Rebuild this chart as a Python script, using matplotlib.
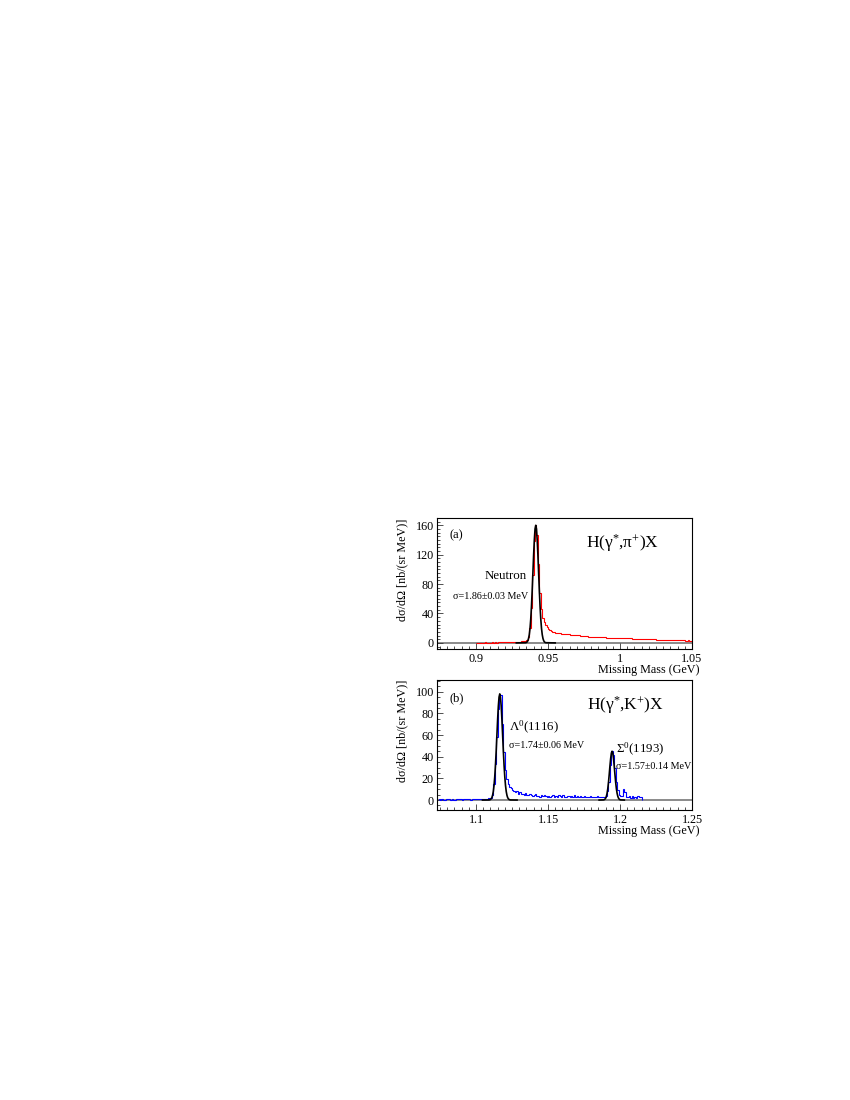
import numpy as np
import matplotlib
matplotlib.use("Agg")
import matplotlib.pyplot as plt
from matplotlib.ticker import MultipleLocator

plt.rcParams['font.family'] = ['Liberation Serif', 'DejaVu Serif']
plt.rcParams['mathtext.fontset'] = 'custom'
plt.rcParams['mathtext.rm'] = 'Liberation Serif'
plt.rcParams['mathtext.it'] = 'Liberation Serif:italic'

# ---------------- Panel (a): H(gamma*, pi+)X ----------------
hist_a_start = 0.900
hist_a_width = 0.001
hist_a_values = [
    0.3, 0.4, 0.2, 0.5, 0.3, 0.4, 0.6, 0.3, 0.5, 0.4,
    0.5, 0.6, 0.4, 0.7, 0.5, 0.6, 0.8, 0.6, 0.7, 0.9,
    0.8, 1.0, 0.9, 1.1, 1.0, 1.2, 1.3, 1.2, 1.5, 1.7,
    1.9, 2.0, 2.2, 2.6, 3.2, 4.5, 8.0, 20, 48, 92,
    138, 160, 147, 108, 68, 46, 34, 28, 24, 21,
    19, 17.5, 16.2, 15.2, 14.5, 14.0, 13.5, 13.1, 12.8, 12.5,
    12.2, 12.4, 11.8, 11.6, 11.7, 11.2, 11.0, 11.1, 10.6, 10.3,
    10.1, 10.2, 9.7, 9.5, 9.6, 9.2, 9.0, 9.1, 8.7, 8.6,
    8.5, 8.6, 8.2, 8.1, 8.2, 7.9, 7.7, 7.8, 7.5, 7.4,
    7.2, 7.3, 7.1, 7.0, 7.1, 6.8, 6.7, 6.8, 6.6, 6.5,
    6.5, 6.6, 6.3, 6.2, 6.3, 6.1, 6.0, 6.1, 5.8, 5.8,
    5.7, 5.8, 5.6, 5.5, 5.6, 5.4, 5.3, 5.4, 5.1, 5.1,
    5.0, 5.1, 4.8, 4.8, 4.9, 4.6, 4.5, 4.6, 4.4, 4.3,
    4.3, 4.4, 4.1, 4.0, 4.1, 3.9, 3.8, 3.9, 3.7, 3.6,
    3.6, 3.7, 3.4, 3.4, 3.5, 3.2, 3.2, 3.3, 3.0, 3.0,
]
fit_a_x = [0.928, 0.9345, 0.935, 0.9355, 0.936, 0.9365, 0.937, 0.9375, 0.938,
           0.9385, 0.939, 0.9395, 0.940, 0.9405, 0.941, 0.9415, 0.942, 0.9425,
           0.943, 0.9435, 0.944, 0.9445, 0.945, 0.9455, 0.946, 0.9465, 0.947,
           0.9475, 0.948, 0.9485, 0.955]
fit_a_y = [0, 0.25, 0.6, 1.4, 3.0, 6.0, 11.2, 19.5, 31.9, 49, 70.4, 94.5, 119,
           140, 155, 160, 155, 140, 119, 94.5, 70.4, 49, 31.9, 19.5, 11.2, 6.0,
           3.0, 1.4, 0.6, 0.25, 0]
xlim_a = (0.8727, 1.05)
ylim_a = (-8.3, 169.5)
xticks_a = [0.9, 0.95, 1.0, 1.05]
xticklabels_a = ['0.9', '0.95', '1', '1.05']
yticks_a = [0, 40, 80, 120, 160]

# ---------------- Panel (b): H(gamma*, K+)X ----------------
hist_b_start = 1.074
hist_b_width = 0.001
hist_b_values = [
    0.5, 0.3, 0.8, 0.4, 0.2, 0.6, 0.9, 0.5, 0.3, 0.7,
    0.4, 0.2, 0.5, 0.8, 1.4, 0.6, 0.3, 0.5, 1.2, 0.6,
    1.0, 0.7, 0.4, 0.8, 1.1, 0.6, 0.9, 1.3, 0.8, 1.0,
    1.2, 0.9, 1.4, 1.1, 1.6, 1.3, 2.0, 4.5, 15, 33,
    58, 84, 96, 97, 70, 44, 28, 19, 15, 12,
    11, 9, 8.5, 7, 8, 6, 7, 5.5, 6, 5,
    6.5, 4.5,
    4.8, 5.5, 4.2, 3.8, 4.6, 5.2, 3.6, 4.0, 3.2, 4.4,
    3.5, 4.8, 3.9, 3.0, 4.1, 2.8, 3.6, 4.5, 3.2, 3.8,
    2.9, 4.2, 3.4, 3.0, 4.6, 3.1, 2.7, 3.9, 3.3, 2.6,
    3.8, 3.0, 4.3, 2.8, 3.4, 2.5, 3.6, 3.0, 2.7, 3.5,
    2.4, 3.1, 2.8, 3.9, 2.6, 3.2, 2.9, 2.5, 3.4, 2.8,
    2.6, 3.0, 2.8, 3.2, 4.0, 8, 17, 32, 45, 42,
    30, 17, 9, 5, 3.5, 4, 10, 7, 3, 2.5,
    4, 2, 3.5, 1.5, 3, 2, 3.5, 2.5, 3.0,
]
fit_lambda_x = [1.1045, 1.109, 1.1095, 1.110, 1.1105, 1.111, 1.1115, 1.112,
                1.1125, 1.113, 1.1135, 1.114, 1.1145, 1.115, 1.1155, 1.116,
                1.1165, 1.117, 1.1175, 1.118, 1.1185, 1.119, 1.1195, 1.120,
                1.1205, 1.121, 1.1215, 1.122, 1.1225, 1.123, 1.1235, 1.124,
                1.1285]
fit_lambda_y = [0, 0.08, 0.2, 0.5, 1.1, 2.2, 4.3, 7.8, 13.3, 21.2, 31.8, 44.8,
                59.4, 74, 86.5, 95, 98, 95, 86.5, 74, 59.4, 44.8, 31.8, 21.2,
                13.3, 7.8, 4.3, 2.2, 1.1, 0.5, 0.2, 0.08, 0]
fit_sigma_x = [1.1855, 1.1885, 1.189, 1.1895, 1.190, 1.1905, 1.191, 1.1915,
               1.192, 1.1925, 1.193, 1.1935, 1.194, 1.1945, 1.195, 1.1955,
               1.196, 1.1965, 1.197, 1.1975, 1.198, 1.1985, 1.199, 1.1995,
               1.200, 1.2005, 1.203]
fit_sigma_y = [0, 0.13, 0.33, 0.77, 1.65, 3.3, 6.1, 10.3, 16.2, 23.4, 31.2,
               38.2, 43.2, 45, 43.2, 38.2, 31.2, 23.4, 16.2, 10.3, 6.1, 3.3,
               1.65, 0.77, 0.33, 0.13, 0]
xlim_b = (1.0727, 1.25)
ylim_b = (-9.2, 110.8)
xticks_b = [1.1, 1.15, 1.2, 1.25]
xticklabels_b = ['1.1', '1.15', '1.2', '1.25']
yticks_b = [0, 20, 40, 60, 80, 100]

ylabel_text = 'd\u03c3/d\u03a9 [nb/(sr MeV)]'
xlabel_text = 'Missing Mass (GeV)'

fig = plt.figure(figsize=(8.5, 11), dpi=100)
W, H = 850, 1100


def make_axes(left_px, right_px, top_px, bottom_px):
    return fig.add_axes([left_px / W, 1 - bottom_px / H,
                         (right_px - left_px) / W, (bottom_px - top_px) / H])


ax_a = make_axes(436.7, 692.0, 518.3, 649.0)
ax_b = make_axes(436.7, 692.0, 680.0, 810.0)


def style_axes(ax, xlim, ylim, xticks, xticklabels, yticks, yminor):
    ax.set_xlim(*xlim)
    ax.set_ylim(*ylim)
    ax.set_xticks(xticks)
    ax.set_xticklabels(xticklabels)
    ax.set_yticks(yticks)
    ax.xaxis.set_minor_locator(MultipleLocator(0.005))
    ax.yaxis.set_minor_locator(MultipleLocator(yminor))
    ax.tick_params(which='both', direction='in', top=False, right=False,
                   labelsize=8.7, width=0.6, color='#333333')
    ax.tick_params(axis='y', pad=2)
    ax.tick_params(axis='x', pad=3)
    ax.tick_params(which='major', length=4)
    ax.tick_params(which='minor', length=2)
    for s in ax.spines.values():
        s.set_linewidth(0.8)
    ax.set_ylabel(ylabel_text, fontsize=8.7, loc='top')
    ax.yaxis.set_label_coords(-0.11, 1.0)
    ax.set_xlabel(xlabel_text, fontsize=8.7, loc='right')


style_axes(ax_a, xlim_a, ylim_a, xticks_a, xticklabels_a, yticks_a, 5)
style_axes(ax_b, xlim_b, ylim_b, xticks_b, xticklabels_b, yticks_b, 5)
ax_a.xaxis.set_label_coords(1.03, -0.158)
ax_b.xaxis.set_label_coords(1.03, -0.163)
ax_a.xaxis.label.set_va('center')
ax_b.xaxis.label.set_va('center')

# Panel (a) drawing
edges_a = hist_a_start + hist_a_width * np.arange(len(hist_a_values) + 1)
ax_a.axhline(0, color='#8a8a8a', lw=1.4, zorder=1)
ax_a.stairs(hist_a_values, edges_a, color='#ff0000', lw=0.8, zorder=2)
ax_a.plot(fit_a_x, fit_a_y, color='black', lw=1.2, zorder=3)

ax_a.text(0.052, 0.872, '(a)', transform=ax_a.transAxes, fontsize=9,
          ha='left', va='center')
ax_a.text(0.585, 0.811, r'H(γ$^{*}$,π$^{+}$)X', transform=ax_a.transAxes,
          fontsize=12.5, ha='left', va='center')
ax_a.text(0.271, 0.559, 'Neutron', transform=ax_a.transAxes, fontsize=9.3,
          ha='center', va='center')
ax_a.text(0.064, 0.405, '\u03c3=1.86\u00b10.03 MeV', transform=ax_a.transAxes,
          fontsize=7.3, ha='left', va='center')

# Panel (b) drawing
edges_b = hist_b_start + hist_b_width * np.arange(len(hist_b_values) + 1)
ax_b.axhline(0, color='#8a8a8a', lw=1.4, zorder=1)
ax_b.stairs(hist_b_values, edges_b, color='#0000ff', lw=0.8, zorder=2)
ax_b.plot(fit_lambda_x, fit_lambda_y, color='black', lw=1.2, zorder=3)
ax_b.plot(fit_sigma_x, fit_sigma_y, color='black', lw=1.2, zorder=3)

ax_b.text(0.052, 0.862, '(b)', transform=ax_b.transAxes, fontsize=9,
          ha='left', va='center')
ax_b.text(0.589, 0.808, r'H(γ$^{*}$,K$^{+}$)X', transform=ax_b.transAxes,
          fontsize=12.5, ha='left', va='center')
ax_b.text(0.283, 0.631, r'Λ$^{0}$(1116)', transform=ax_b.transAxes,
          fontsize=9.3, ha='left', va='center')
ax_b.text(0.283, 0.50, '\u03c3=1.74\u00b10.06 MeV', transform=ax_b.transAxes,
          fontsize=7.3, ha='left', va='center')
ax_b.text(0.703, 0.462, r'Σ$^{0}$(1193)', transform=ax_b.transAxes,
          fontsize=9.3, ha='left', va='center')
ax_b.text(0.703, 0.338, '\u03c3=1.57\u00b10.14 MeV', transform=ax_b.transAxes,
          fontsize=7.3, ha='left', va='center')

fig.savefig('out.png', dpi=100)
